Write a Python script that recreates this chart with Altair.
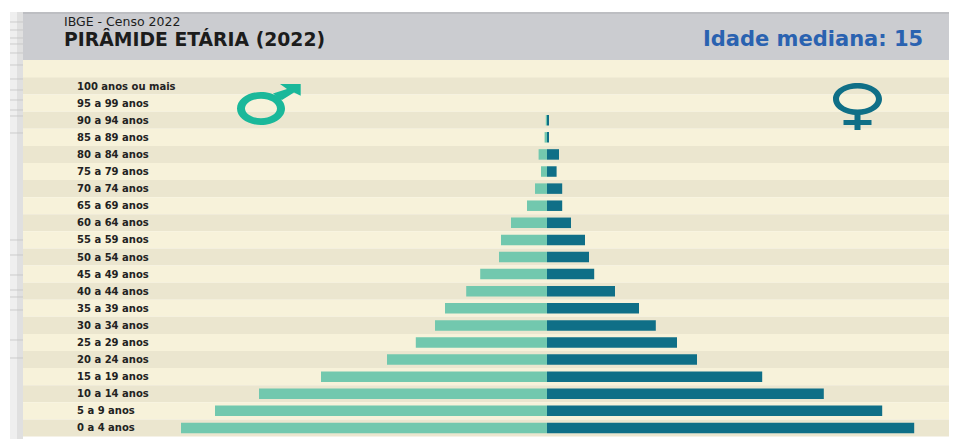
import altair as alt
import pandas as pd

ages = ["100 anos ou mais", "95 a 99 anos", "90 a 94 anos", "85 a 89 anos", "80 a 84 anos",
        "75 a 79 anos", "70 a 74 anos", "65 a 69 anos", "60 a 64 anos", "55 a 59 anos",
        "50 a 54 anos", "45 a 49 anos", "40 a 44 anos", "35 a 39 anos", "30 a 34 anos",
        "25 a 29 anos", "20 a 24 anos", "15 a 19 anos", "10 a 14 anos", "5 a 9 anos", "0 a 4 anos"]
male = [0, 0, 0.03, 0.06, 0.21, 0.15, 0.30, 0.50, 0.90, 1.15, 1.20, 1.67, 2.02, 2.55, 2.80,
        3.28, 4.00, 5.65, 7.20, 8.30, 9.15]
female = [0, 0, 0.05, 0.05, 0.30, 0.24, 0.38, 0.38, 0.60, 0.95, 1.05, 1.18, 1.70, 2.30, 2.72,
          3.25, 3.75, 5.38, 6.92, 8.38, 9.18]
texture_lines = [22, 30, 38, 44, 53, 65, 79, 90, 100, 110, 116, 133, 240, 255, 275, 290, 297, 310, 340, 358]

df = pd.DataFrame({"age": ages, "male": [-v for v in male], "female": female, "zero": [0] * len(ages),
                   "shade": ["d" if i % 2 == 0 else "l" for i in range(len(ages))]})

CREAM, STRIPE = "#f7f2da", "#ebe6cf"
W = 941
xs = alt.Scale(domain=[-10, 10], range=[139, 939])
ys = alt.Scale(domain=ages, range=[69.5, 428.5], paddingInner=0, paddingOuter=0)
one = pd.DataFrame({"k": [0]})


def box(x0, x1, y0, y1, color):
    return alt.Chart(one).mark_rect(color=color).encode(
        x=alt.value(x0 - 8), x2=alt.value(x1 - 8), y=alt.value(y0 - 8), y2=alt.value(y1 - 8))


def label(txt, x, y, size, color="#1c1c1c", weight="normal", font="DejaVu Sans"):
    return alt.Chart(one).mark_text(text=txt, align="left", baseline="middle", fontSize=size,
                                    color=color, fontWeight=weight, font=font).encode(
        x=alt.value(x - 8), y=alt.value(y - 8))


U = 50.0  # pixels per symbol unit at size 10000


def p(v):
    return f"{v / U:.4f}"


def ring(rx, ry, tx, ty):
    ix, iy = rx - tx, ry - ty
    return (f"M{p(-rx)} 0 A{p(rx)} {p(ry)} 0 1 1 {p(rx)} 0 A{p(rx)} {p(ry)} 0 1 1 {p(-rx)} 0 Z "
            f"M{p(-ix)} 0 A{p(ix)} {p(iy)} 0 1 0 {p(ix)} 0 A{p(ix)} {p(iy)} 0 1 0 {p(-ix)} 0 Z ")


def poly(points):
    return "M" + " L".join(f"{p(a)} {p(b)}" for a, b in points) + " Z"


def icon(path, cx, cy, color):
    return alt.Chart(one).mark_point(shape=path, size=10000, filled=True, color=color,
                                     opacity=1, strokeWidth=0).encode(
        x=alt.value(cx - 8), y=alt.value(cy - 8))


male_icon = ring(24, 16.5, 8, 6.8) + poly([(12, -15), (26, -19.5), (19, -24.5), (39.7, -24.5),
                                           (39.7, -12.8), (33, -16), (21, -8.5)])
female_icon = ring(24.5, 16, 6, 5.5) + poly([(-3, 15), (3, 15), (3, 21), (14, 21), (14, 26), (3, 26),
                                             (3, 31), (-3, 31), (-3, 26), (-14, 26), (-14, 21), (-3, 21)])

texture = alt.Chart(pd.DataFrame({"yy": texture_lines})).mark_rule(color="#c4c4c4", strokeWidth=1, opacity=0.8).encode(
    x=alt.value(2), x2=alt.value(15),
    y=alt.Y("yy:Q", scale=alt.Scale(domain=[8, 439], range=[0, 431]), axis=None))

base = alt.Chart(df)
stripes = base.mark_rect().encode(
    y=alt.Y("age:N", scale=ys, axis=None),
    x=alt.value(15), x2=alt.value(W),
    color=alt.Color("shade:N", scale=alt.Scale(domain=["d", "l"], range=[STRIPE, CREAM]), legend=None))
bars_m = base.mark_bar(size=10.5, color="#72c8ae").encode(
    y=alt.Y("age:N", scale=ys, axis=None),
    x=alt.X("male:Q", scale=xs, axis=None), x2="zero:Q")
bars_f = base.mark_bar(size=10.5, color="#0f6f87").encode(
    y=alt.Y("age:N", scale=ys, axis=None),
    x=alt.X("female:Q", scale=xs, axis=None), x2="zero:Q")
age_text = base.mark_text(align="left", baseline="middle", fontSize=10, fontWeight="bold", dy=0.5,
                          font="DejaVu Sans", color="#222222").encode(
    y=alt.Y("age:N", scale=ys, axis=None), x=alt.value(69), text="age:N")

chart = alt.layer(
    box(10, 17, 12, 439, "#efefef"),
    box(17, 23, 12, 439, "#e0e0e0"),
    texture,
    box(23, 949, 12, 60, "#cbccd0"),
    box(23, 949, 12, 14, "#bdbec2"),
    box(23, 949, 60, 78, CREAM),
    stripes, bars_m, bars_f, age_text,
    label("IBGE - Censo 2022", 64, 21.5, 12.5),
    label("PIRÂMIDE ETÁRIA (2022)", 64, 40, 18.8, weight="bold"),
    label("Idade mediana: 15", 703, 39.5, 21, color="#2a62b0", weight="bold"),
    icon(male_icon, 261, 108.5, "#1ab89a"),
    icon(female_icon, 857.5, 99, "#0f6f87"),
).resolve_scale(color="independent", y="independent").properties(
    width=W, height=431, padding=0, autosize=alt.AutoSizeParams(type="none"),
    background="#ffffff"
).configure_view(stroke=None)

chart.save("out.html", embed_options={"renderer": "svg", "actions": False})
